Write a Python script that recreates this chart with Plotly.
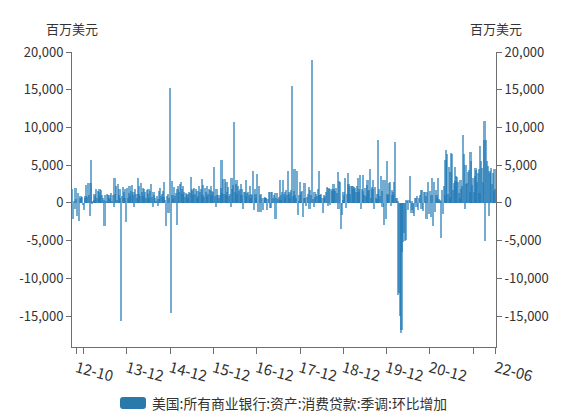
import pandas as pd
import plotly.graph_objects as go

# Weekly change, US all commercial banks consumer loans (SA), millions USD
weekly_change = [
    1800, -2100, 300, -800, 2000, 500, -1800, 1300, -2400, 700,
    900, 600, 800, -300, -900, 700, 900, 2400, 800, 2600,
    1000, -1700, 2600, 5700, -200, 300, 400, 1200, 900, 1800,
    700, 1600, 1400, 1900, 900, 1700, 1100, 600, 400, -3000,
    1000, 300, 1200, 1100, 700, 1100, 500, 1300, 200, 1000,
    -500, 3300, 1200, 2200, 400, 2500, 1000, 1900, 600, -15600,
    900, 2100, 1500, 700, 1800, -2500, 2000, 700, 1300, 2200,
    900, 1600, 2400, 1000, 1500, -600, 1800, 1200, 700, 3300,
    1200, 2200, 900, 2600, 1400, 2000, 900, 1800, 1500, 600,
    1700, 1200, 1900, 700, 1600, 2500, 800, -600, 1400, 1000,
    600, 300, 900, -400, 500, 1600, 2000, 900, 1200, 1600,
    800, 2800, 400, -3000, 900, 1200, -1400, 600, 15200, -14600,
    2900, 1100, 500, 2100, 900, 1300, -2900, 1800, 2200, 1500,
    2500, 2800, 1900, 1200, 2300, 1400, 800, 1300, 1000, 1200,
    700, 1500, 1300, 3400, 1600, 1900, 1000, 2000, 1200, 1800,
    700, 1600, 900, 2200, 1400, 1900, 3200, 1000, 2400, 800,
    2000, 1500, 2200, 900, 1200, 1900, 1700, 2200, 1000, 1600,
    1400, 4700, 900, -500, 1800, 1000, 1100, 600, 1000, 2000,
    5700, 1300, 3200, 1200, 3200, 1000, 2800, 1500, 2100, 900,
    1200, -500, 3300, 1800, 2400, 10700, 1500, 2500, 3000, 1200,
    2200, 1600, 1800, 2500, 1000, 1900, -800, 1400, 1500, 900,
    3000, 1300, 1500, 1000, 2200, 700, 1200, 1100, 4200, -900,
    1800, 1200, 700, 3800, -1200, 2200, 1100, -1200, 1200, 700,
    -1000, 700, 800, 600, 700, -900, 500, 1400, -700, 1400,
    -700, 1400, 600, 1000, 1300, -2200, 600, 1300, 500, 800,
    3000, 400, 1100, 1500, 3000, 1200, 1500, 800, 1700, 1000,
    4200, 1200, 1500, 600, 1700, 15500, 900, 1600, 4500, 1000,
    700, 4200, -1600, 300, 1000, 2800, 1500, 1600, -1900, 700,
    2700, 600, -400, 800, 1200, 2100, -800, 1700, 1000, 19000,
    500, -500, 1500, 800, 1200, 900, 1800, 4200, 1100, 1000,
    1200, 600, -1400, 1000, 700, 900, 1500, 2100, -400, 2000,
    1900, -300, 1900, 1600, 1800, 2500, 1900, 1600, 2000, 1300,
    4100, -800, 2900, 2800, -3400, -1600, 400, 1400, 1000, 3300,
    -700, 1200, 4000, 2500, 2300, 1200, 2300, 2200, 2200, 1800,
    2100, 2000, 1500, 2200, 3300, 1500, 1900, 3700, -800, 1800,
    3700, 1600, 1000, 2000, 900, 2400, 3000, 1600, 1700, 4500,
    700, 2100, 1800, 3000, -800, 2100, 700, 500, 1200, 8400,
    1800, 900, 3600, 1600, -500, 3000, -2900, 3000, -2200, 5600,
    1200, 1000, 2700, 2800, -400, 1700, 1000, 1500, 2800, 8100,
    700, 600, 300, -12200, -12000, -15000, -17300, -16800, -6500, -5200,
    -4000, -5000, -4900, 400, 300, -900, 400, 3600, -1400, 300,
    -900, -1300, -1700, 600, 700, -500, 900, -900, 600, 1100,
    1700, -800, 1700, -1100, 1500, 1400, 900, -2200, 1500, 2800,
    -1500, 1600, -1900, 1000, 3300, -3000, 2800, -1200, 1700, 1100,
    600, 3300, 500, 400, 300, -4600, 1700, -1500, 2300, 1000,
    5700, 7000, 6500, 1200, 4700, 800, 4100, 6600, 6500, 1700,
    2600, 4800, 2900, 3500, 3400, 2800, 1300, 700, 3100, 1800,
    2200, 9000, 6500, -800, 5000, 2500, 2600, 4100, 4300, 1500,
    6800, 5500, 2400, 3300, 1400, 3600, 4600, 4400, 2800, 3900,
    4500, 1300, 7600, 5500, 4600, 2800, 8400, 10800, -5100, 8400,
    5600, 4900, -1700, 4200, 4000, 4600, 2500, 3900, 1600, 4500,
    1800,
]
start_date = "2012-08-29"
series_name = "美国:所有商业银行:资产:消费贷款:季调:环比增加"
unit_label = "百万美元"

x_tick_dates = ["2012-10-01", "2012-12-01", "2013-12-01", "2014-12-01", "2015-12-01",
                "2016-12-01", "2017-12-01", "2018-12-01", "2019-12-01", "2020-12-01",
                "2021-12-01", "2022-06-08"]
x_tick_labels = ["12-10", "", "13-12", "14-12", "15-12", "16-12", "17-12", "18-12",
                 "19-12", "20-12", "", "22-06"]
y_tick_vals = [-15000, -10000, -5000, 0, 5000, 10000, 15000, 20000]
y_tick_labels = [f"{v:,}" for v in y_tick_vals]

dates = pd.date_range(start_date, periods=len(weekly_change), freq="7D")
day_ms = 86400000
bar_color = "#1f77b4"
swatch_color = "#2a79ab"
axis_color = "#6e6e6e"
font_family = "Noto Sans CJK SC, Noto Sans, sans-serif"

fig = go.Figure()
fig.add_trace(go.Bar(
    x=dates, y=weekly_change, name=series_name,
    width=14 * day_ms,
    marker=dict(color=bar_color, opacity=0.62, line=dict(width=0)),
    showlegend=False,
))
# right axis carrier
fig.add_trace(go.Scatter(x=[dates[0]], y=[None], yaxis="y2", mode="lines",
                         showlegend=False, hoverinfo="skip"))

x_range = [dates[0] - pd.Timedelta(days=3.5), dates[-1] + pd.Timedelta(days=3.5)]
y_range = [-19100, 20000]

axis_common = dict(
    range=y_range, tickvals=y_tick_vals, ticktext=y_tick_labels,
    showline=True, linecolor=axis_color, linewidth=1,
    ticks="outside", ticklen=5, tickcolor=axis_color,
    showgrid=False, zeroline=False, automargin=False,
    tickfont=dict(size=13, color="#333333"),
)

# legend drawn as a rounded swatch + text below the plot (paper coordinates)
plot_w, plot_h = 424.0, 295.0
sx0, sx1 = 48 / plot_w, 74 / plot_w
sy0, sy1 = -62 / plot_h, -50 / plot_h
rx, ry = 3 / plot_w, 3 / plot_h
swatch_path = (
    f"M {sx0+rx},{sy1} L {sx1-rx},{sy1} Q {sx1},{sy1} {sx1},{sy1-ry} "
    f"L {sx1},{sy0+ry} Q {sx1},{sy0} {sx1-rx},{sy0} "
    f"L {sx0+rx},{sy0} Q {sx0},{sy0} {sx0},{sy0+ry} "
    f"L {sx0},{sy1-ry} Q {sx0},{sy1} {sx0+rx},{sy1} Z"
)

# page body has an 8px default margin, so the figure is sized to fit the 561x414 window
fig.update_layout(
    width=553, height=406,
    margin=dict(l=64, r=65, t=44, b=67),
    paper_bgcolor="white", plot_bgcolor="white",
    font=dict(family=font_family, color="#333333"),
    bargap=0,
    showlegend=False,
    xaxis=dict(
        type="date", range=x_range,
        tickvals=x_tick_dates, ticktext=x_tick_labels, tickangle=15,
        showline=True, linecolor=axis_color, linewidth=1,
        ticks="outside", ticklen=6, tickcolor=axis_color,
        showgrid=False, zeroline=False, automargin=False,
        tickfont=dict(size=15, color="#333333"),
    ),
    yaxis=dict(side="left", **axis_common),
    yaxis2=dict(side="right", overlaying="y", **axis_common),
    shapes=[dict(type="path", xref="paper", yref="paper", path=swatch_path,
                 fillcolor=swatch_color, line=dict(width=0), layer="above")],
    annotations=[
        dict(text=unit_label, xref="paper", yref="paper", x=0, y=1, yshift=24,
             xanchor="center", yanchor="middle", showarrow=False,
             font=dict(size=13, color="#333333")),
        dict(text=unit_label, xref="paper", yref="paper", x=1, y=1, yshift=24,
             xanchor="center", yanchor="middle", showarrow=False,
             font=dict(size=13, color="#333333")),
        dict(text=series_name, xref="paper", yref="paper", x=78 / plot_w, y=-56 / plot_h,
             xanchor="left", yanchor="middle", showarrow=False,
             font=dict(size=13.8, color="#333333")),
    ],
)

fig.write_html("out.html")
